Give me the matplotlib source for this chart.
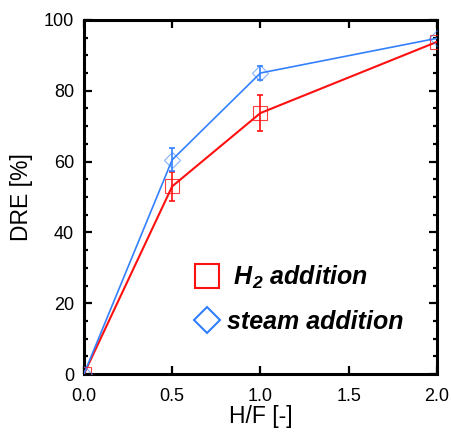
import matplotlib
matplotlib.use("Agg")
import matplotlib.pyplot as plt
from matplotlib.lines import Line2D
from matplotlib.ticker import MultipleLocator, FormatStrFormatter

plt.rcParams["font.family"] = ["Liberation Sans", "DejaVu Sans"]
plt.rcParams["mathtext.fontset"] = "custom"
plt.rcParams["mathtext.rm"] = "Liberation Sans:italic:bold"
plt.rcParams["mathtext.it"] = "Liberation Sans:italic:bold"

# data
hf = [0.0, 0.5, 1.0, 2.0]
h2_dre = [0.0, 53.0, 73.7, 93.8]
h2_err = [0.0, 4.0, 5.0, 0.0]
steam_dre = [0.0, 60.5, 85.0, 94.8]
steam_err = [0.0, 3.2, 2.0, 0.0]

red = "#ff1010"
blue = "#3380ff"

fig = plt.figure(figsize=(4.51, 4.32), dpi=100)
ax = fig.add_axes([0.186, 0.134, 0.783, 0.820])

ax.plot(hf, h2_dre, color=red, lw=1.5, zorder=3)
ax.plot(hf, steam_dre, color=blue, lw=1.2, zorder=4)
ax.plot(hf, h2_dre, ls="none", marker="s", ms=10, mfc="none", mec=red,
        mew=0.8, alpha=0.8, zorder=5)
ax.plot(hf, steam_dre, ls="none", marker="D", ms=8, mfc="none", mec=blue,
        mew=0.8, alpha=0.6, zorder=5)
ax.errorbar(hf[1:3], h2_dre[1:3], yerr=h2_err[1:3], fmt="none", ecolor=red,
            elinewidth=1.2, capsize=2.5, capthick=1.2, zorder=6)
ax.errorbar(hf[1:3], steam_dre[1:3], yerr=steam_err[1:3], fmt="none", ecolor=blue,
            elinewidth=1.2, capsize=2.5, capthick=1.2, zorder=6)

ax.set_xlim(0, 2.0)
ax.set_ylim(0, 100)
ax.xaxis.set_major_locator(MultipleLocator(0.5))
ax.xaxis.set_major_formatter(FormatStrFormatter("%.1f"))
ax.yaxis.set_major_locator(MultipleLocator(20))
ax.yaxis.set_minor_locator(MultipleLocator(5))
ax.tick_params(which="both", direction="in", top=True, right=True, width=1.6)
ax.tick_params(which="major", length=6, labelsize=13)
ax.tick_params(axis="x", pad=10)
ax.tick_params(axis="y", pad=7)
ax.tick_params(which="minor", length=3)
for s in ax.spines.values():
    s.set_linewidth(2.2)

ax.set_xlabel("H/F [-]", fontsize=16.5, labelpad=0)
ax.set_ylabel("DRE [%]", fontsize=16.5, labelpad=8)

handles = [
    Line2D([], [], ls="none", marker="s", ms=17, mfc="none", mec=red, mew=1.5),
    Line2D([], [], ls="none", marker="D", ms=13, mfc="none", mec=blue, mew=1.5),
]
ax.legend(handles, [" H$_2$ addition", "steam addition"], loc="center left",
          bbox_to_anchor=(0.25, 0.213), frameon=False, handlelength=1.0,
          handletextpad=0.3, labelspacing=0.75,
          prop={"size": 18, "weight": "bold", "style": "italic"})

fig.savefig("out.png", dpi=100)
